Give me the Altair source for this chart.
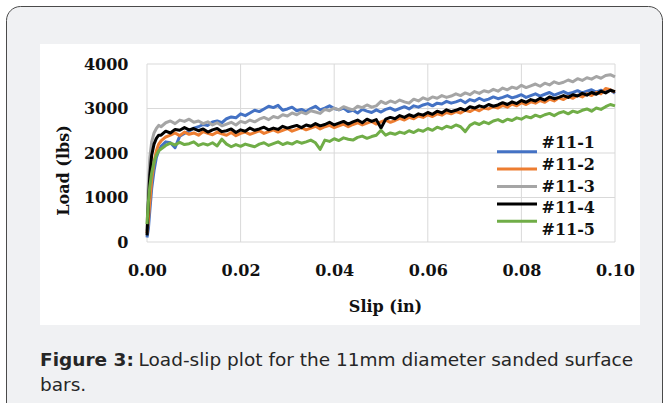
import altair as alt
import pandas as pd

# ---------------- data ----------------
slip = [0.0, 0.0003, 0.0006, 0.001, 0.0015, 0.002, 0.0025,
        0.003, 0.004, 0.005, 0.006, 0.007, 0.008, 0.009, 0.010, 0.011, 0.012,
        0.013, 0.014, 0.015, 0.016, 0.017, 0.018, 0.019, 0.020, 0.021, 0.022,
        0.023, 0.024, 0.025, 0.026, 0.027, 0.028, 0.029, 0.030, 0.031, 0.032,
        0.033, 0.034, 0.035, 0.036, 0.037, 0.038, 0.039, 0.040, 0.041, 0.042,
        0.043, 0.044, 0.045, 0.046, 0.047, 0.048, 0.049, 0.050, 0.051, 0.052,
        0.053, 0.054, 0.055, 0.056, 0.057, 0.058, 0.059, 0.060, 0.061, 0.062,
        0.063, 0.064, 0.065, 0.066, 0.067, 0.068, 0.069, 0.070, 0.071, 0.072,
        0.073, 0.074, 0.075, 0.076, 0.077, 0.078, 0.079, 0.080, 0.081, 0.082,
        0.083, 0.084, 0.085, 0.086, 0.087, 0.088, 0.089, 0.090, 0.091, 0.092,
        0.093, 0.094, 0.095, 0.096, 0.097, 0.098, 0.099, 0.100]

load_11_1 = [100, 300, 700, 1200, 1600, 1900, 2050,
             2150, 2250, 2230, 2120, 2380, 2440, 2490, 2560, 2590, 2640,
             2620, 2700, 2720, 2680, 2770, 2810, 2790, 2880, 2840, 2900,
             2960, 2930, 2990, 3050, 3020, 3070, 2960, 2990, 3030, 2950,
             2980, 2930, 3000, 3050, 2970, 3010, 3060, 3000, 2970, 3010,
             2930, 2960, 2900, 2980, 2940, 2910, 2970, 2920, 2980, 3010,
             2960, 3000, 3040, 2990, 3060, 3030, 3080, 3110, 3060, 3120,
             3100, 3160, 3120, 3150, 3190, 3130, 3200, 3170, 3230, 3180,
             3210, 3260, 3220, 3250, 3290, 3240, 3270, 3310, 3250, 3290,
             3330, 3280, 3320, 3360, 3300, 3340, 3380, 3330, 3360, 3400,
             3350, 3390, 3420, 3370, 3410, 3380, 3420, 3340]

load_11_2 = [200, 500, 900, 1400, 1800, 2050, 2200,
             2270, 2360, 2400, 2450, 2390, 2470, 2420, 2450, 2400, 2480,
             2440, 2410, 2470, 2430, 2400, 2460, 2390, 2440, 2470, 2420,
             2460, 2500, 2440, 2480, 2520, 2470, 2510, 2550, 2490, 2530,
             2570, 2520, 2560, 2600, 2540, 2590, 2620, 2570, 2610, 2650,
             2590, 2640, 2680, 2630, 2670, 2710, 2650, 2700, 2740, 2690,
             2730, 2780, 2740, 2800, 2770, 2830, 2800, 2860, 2820, 2880,
             2850, 2910, 2880, 2930, 2900, 2960, 2930, 2990, 2950, 3010,
             2990, 3040, 3010, 3070, 3030, 3100, 3060, 3130, 3090, 3150,
             3120, 3180, 3140, 3210, 3170, 3240, 3200, 3270, 3230, 3300,
             3260, 3330, 3290, 3360, 3330, 3450, 3420, 3370]

load_11_3 = [250, 1300, 1900, 2250, 2450, 2550, 2620,
             2590, 2680, 2720, 2660, 2740, 2710, 2760, 2690, 2720, 2660,
             2700, 2630, 2680, 2610, 2650, 2690, 2630, 2710, 2680, 2740,
             2700, 2760, 2800, 2750, 2820, 2790, 2860, 2830, 2900, 2860,
             2920, 2880, 2950, 2920, 2890, 2980, 2950, 3010, 2970, 3040,
             3000, 2970, 3050, 3020, 3080, 3030, 3060, 3160, 3110, 3170,
             3130, 3190, 3150, 3120, 3210, 3170, 3240, 3200, 3260, 3230,
             3290, 3250, 3280, 3330, 3290, 3350, 3310, 3380, 3340, 3400,
             3370, 3430, 3390, 3460, 3420, 3480, 3450, 3520, 3470, 3510,
             3550, 3500, 3570, 3530, 3600, 3560, 3590, 3640, 3600, 3670,
             3630, 3690, 3660, 3720, 3680, 3740, 3760, 3710]

load_11_4 = [150, 900, 1500, 1950, 2200, 2330, 2400,
             2400, 2490, 2450, 2530, 2510, 2570, 2520, 2550, 2500, 2540,
             2470, 2520, 2550, 2480, 2500, 2540, 2460, 2520, 2490, 2560,
             2510, 2540, 2580, 2520, 2560, 2530, 2600, 2560, 2590, 2620,
             2570, 2630, 2600, 2660, 2610, 2640, 2690, 2630, 2670, 2710,
             2650, 2700, 2740, 2680, 2760, 2710, 2750, 2560, 2760, 2800,
             2770, 2840, 2800, 2860, 2820, 2880, 2850, 2910, 2870, 2940,
             2900, 2970, 2930, 2960, 3000, 2960, 3040, 3010, 3060, 3030,
             3090, 3050, 3080, 3130, 3090, 3150, 3110, 3180, 3140, 3200,
             3170, 3230, 3190, 3260, 3220, 3250, 3290, 3250, 3310, 3280,
             3340, 3300, 3360, 3320, 3390, 3350, 3410, 3380]

load_11_5 = [400, 900, 1250, 1550, 1800, 1950, 2050,
             2090, 2170, 2220, 2180, 2240, 2190, 2210, 2250, 2170, 2210,
             2180, 2230, 2160, 2310, 2200, 2140, 2190, 2150, 2200, 2170,
             2140, 2200, 2230, 2170, 2210, 2250, 2190, 2230, 2200, 2260,
             2220, 2250, 2290, 2230, 2080, 2290, 2260, 2320, 2280, 2340,
             2310, 2290, 2350, 2380, 2330, 2370, 2400, 2510, 2400, 2450,
             2420, 2470, 2440, 2500, 2460, 2520, 2490, 2550, 2510, 2580,
             2540, 2600, 2570, 2630, 2590, 2480, 2620, 2680, 2640, 2700,
             2660, 2720, 2750, 2700, 2760, 2730, 2790, 2760, 2820, 2790,
             2850, 2810, 2860, 2890, 2840, 2900, 2930, 2880, 2940, 2910,
             2960, 2990, 2940, 3010, 2980, 3040, 3090, 3060]

series_names = ["#11-1", "#11-2", "#11-3", "#11-4", "#11-5"]
series_colors = ["#4472C4", "#ED7D31", "#A5A5A5", "#000000", "#70AD47"]
x_ticks = [0.0, 0.02, 0.04, 0.06, 0.08, 0.10]
y_ticks = [0, 1000, 2000, 3000, 4000]
x_title = "Slip (in)"
y_title = "Load (lbs)"
caption_bold = "Figure 3:"
caption_rest = "Load-slip plot for the 11mm diameter sanded surface"
caption_line2 = "bars."

# ---------------- build ----------------
rows = []
for name, vals in zip(series_names, [load_11_1, load_11_2, load_11_3, load_11_4, load_11_5]):
    for s, v in zip(slip, vals):
        rows.append({"slip": s, "load": v, "series": name})
df = pd.DataFrame(rows)

W, H = 468, 178
SERIF = "DejaVu Serif"
SANS = "DejaVu Sans"
TXT = "#111111"
CAP = "#262626"

xs = alt.Scale(domain=[0, 0.1], nice=False, zero=False)
ys = alt.Scale(domain=[0, 4000], nice=False)
cs = alt.Scale(domain=series_names, range=series_colors)

x_axis = alt.Axis(
    values=x_ticks, format=".2f", title=x_title, grid=False, ticks=False,
    domain=False, labelPadding=20, labelFlush=False, titleY=64,
    titleBaseline="middle", titleX=238, zindex=1)
y_axis = alt.Axis(
    values=y_ticks, format="d", title=y_title, grid=False, ticks=False,
    domain=False, labelPadding=19, labelFlush=False, titleX=-84, titleY=106,
    titleAngle=270, titleAlign="center", titleBaseline="middle", zindex=1)

one = pd.DataFrame({"k": [0]})

frame = alt.Chart(one).mark_rect(
    fill="#f0f1f3", stroke="#4a4a4a", strokeWidth=1, cornerRadius=14
).encode(x=alt.value(-140.5), x2=alt.value(515.5), y=alt.value(-57.5), y2=alt.value(380))

white = alt.Chart(one).mark_rect(fill="white").encode(
    x=alt.value(-107), x2=alt.value(493), y=alt.value(-20), y2=alt.value(261)
)

xgrid = alt.Chart(pd.DataFrame({"slip": x_ticks})).mark_rule(
    color="#d9d9d9", strokeWidth=1
).encode(x=alt.X("slip:Q", scale=xs, axis=x_axis))

ygrid = alt.Chart(pd.DataFrame({"load": y_ticks})).mark_rule(
    color="#d9d9d9", strokeWidth=1
).encode(y=alt.Y("load:Q", scale=ys, axis=None))

lines = alt.Chart(df).mark_line(strokeWidth=3, strokeJoin="round").encode(
    x=alt.X("slip:Q", scale=xs, axis=x_axis),
    y=alt.Y("load:Q", scale=ys, axis=y_axis),
    color=alt.Color("series:N", scale=cs, legend=None),
)

leg_df = pd.DataFrame({"series": series_names})
leg_y = alt.Y("series:N", scale=alt.Scale(domain=series_names, range=[79, 166], padding=0), axis=None)

leg_rule = alt.Chart(leg_df).mark_rule(strokeWidth=3).encode(
    x=alt.value(350), x2=alt.value(390), y=leg_y,
    color=alt.Color("series:N", scale=cs, legend=None),
)
leg_text = alt.Chart(leg_df).mark_text(
    align="left", baseline="middle", font=SERIF, fontWeight="bold", fontSize=16, color=TXT
).encode(x=alt.value(394.5), y=leg_y, text="series:N")

cap1 = alt.Chart(pd.DataFrame({"t": [caption_bold]})).mark_text(
    align="left", baseline="alphabetic", font=SANS, fontWeight="bold", fontSize=18.5, color=CAP
).encode(x=alt.value(-107), y=alt.value(302), text="t:N")
cap2 = alt.Chart(pd.DataFrame({"t": [caption_rest]})).mark_text(
    align="left", baseline="alphabetic", font=SANS, fontSize=18.5, color=CAP
).encode(x=alt.value(-8.5), y=alt.value(302), text="t:N")
cap3 = alt.Chart(pd.DataFrame({"t": [caption_line2]})).mark_text(
    align="left", baseline="alphabetic", font=SANS, fontSize=18.5, color=CAP
).encode(x=alt.value(-107), y=alt.value(327), text="t:N")

chart = alt.layer(
    frame, white, xgrid, ygrid, lines, leg_rule, leg_text, cap1, cap2, cap3
).resolve_scale(y="independent").properties(
    width=W, height=H,
    padding={"left": 147, "top": 64, "right": 52, "bottom": 161},
    autosize=alt.AutoSizeParams(type="none"),
    background="white",
).configure_view(stroke=None).configure_axis(
    labelFont=SERIF, labelFontWeight="bold", labelFontSize=16, labelColor=TXT,
    titleFont=SERIF, titleFontWeight="bold", titleFontSize=16, titleColor=TXT,
)

chart.save("out.html", embed_options={"renderer": "svg", "actions": False})
